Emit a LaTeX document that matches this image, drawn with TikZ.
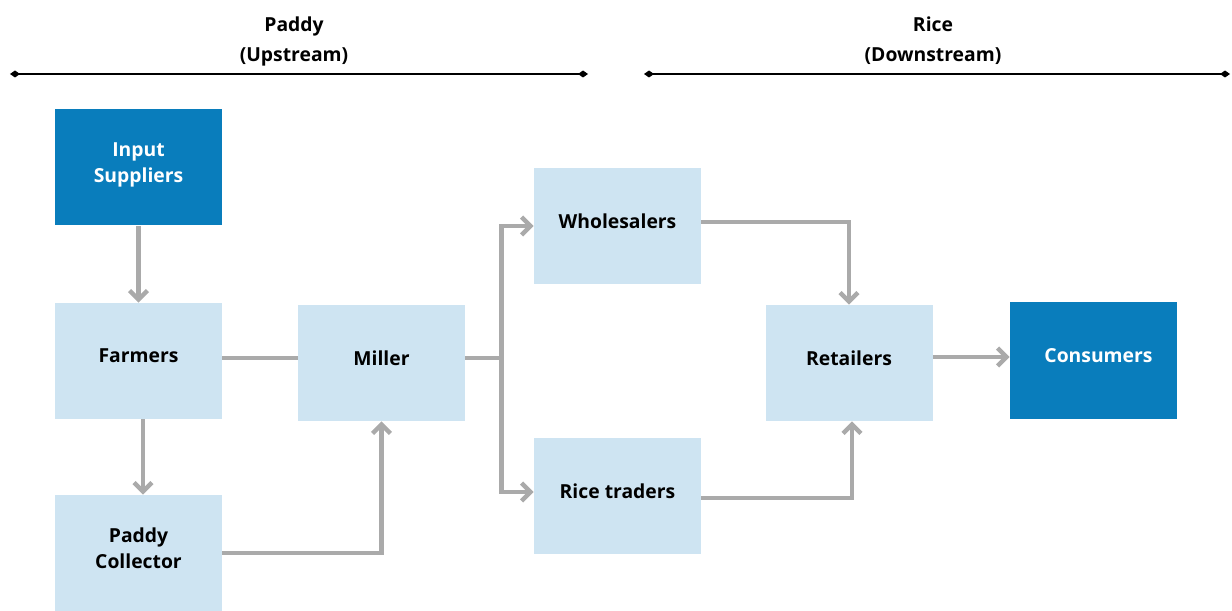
\documentclass[tikz,border=0pt]{standalone}
\usepackage{fontspec}
\setmainfont{Open Sans}
\usetikzlibrary{arrows.meta}
\definecolor{darkblue}{RGB}{9,125,188}
\definecolor{lightblue}{RGB}{206,228,242}
\definecolor{flowgray}{RGB}{170,170,170}
\begin{document}
\begin{tikzpicture}
			\tikzset{box/.style={rectangle, fill=lightblue, minimum width=3.34cm, minimum height=2.32cm, align=center, text depth=0.2cm, font=\bfseries\fontsize{11}{14.5}\selectfont, text=black},
				endbox/.style={box, fill=darkblue, text=white},
				flow/.style={line width=2.5pt, draw=flowgray, -{Straight Barb[length=1.8mm, width=3.6mm, line width=2.5pt]}},
				link/.style={line width=2.5pt, draw=flowgray},
				bar/.style={line width=1.1pt, {Diamond[length=2mm, width=1.4mm]}-{Diamond[length=2mm, width=1.4mm]}},
				head/.style={font=\bfseries\fontsize{11}{14}\selectfont}}
			\useasboundingbox (0,0) rectangle (24.64,12.2);

			% Boxes
			\node[endbox] at (2.77, 8.85) (inp) {Input\\Suppliers};
			\node[box] at (2.77, 4.98) (farm) {Farmers};
			\node[box] at (2.77, 1.14) (coll) {Paddy\\Collector};
			\node[box] at (7.63, 4.94) (mill) {Miller};
			\node[box] at (12.35, 7.68) (whole) {Wholesalers};
			\node[box] at (12.35, 2.28) (trad) {Rice traders};
			\node[box] at (16.98, 4.94) (ret) {Retailers};
			\node[endbox] at (21.87, 4.99) (cons) {\hspace*{0.2cm}Consumers};

			% Headings
			\node[head] at (5.88, 11.68) (paddy) {Paddy};
			\node[head] at (5.88, 11.06) (up) {(Upstream)};
			\node[head] at (18.66, 11.71) (rice) {Rice};
			\node[head] at (18.66, 11.08) (down) {(Downstream)};
			\coordinate (u1) at (0.2, 10.72);
			\coordinate (u2) at (11.76, 10.72);
			\coordinate (d1) at (12.88, 10.72);
			\coordinate (d2) at (24.6, 10.72);
			\draw[bar] (u1) -- (u2);
			\draw[bar] (d1) -- (d2);

			% Paddy flows
			\draw[flow] (inp) -- (farm);
			\draw[flow] ([xshift=0.09cm]farm.south) -- ([xshift=0.09cm]coll.north);
			\draw[link] ([yshift=0.06cm]farm.east) -- ([yshift=0.06cm]farm.east -| mill.west);
			\draw[flow] (coll.east) -| (mill.south);

			% Rice flows
			\draw[link] ([yshift=0.1cm]mill.east) -- ++(0.72,0) coordinate (br);
			\draw[flow] (br) |- (whole.west);
			\draw[flow] (br) |- ([yshift=0.08cm]trad.west);
			\draw[flow] ([yshift=0.08cm]whole.east) -| (ret.north);
			\draw[flow] ([yshift=-0.04cm]trad.east) -| ([xshift=0.06cm]ret.south);
			\draw[flow] ([yshift=0.12cm]ret.east) -- ([yshift=0.12cm]ret.east -| cons.west);
		\end{tikzpicture}
\end{document}
